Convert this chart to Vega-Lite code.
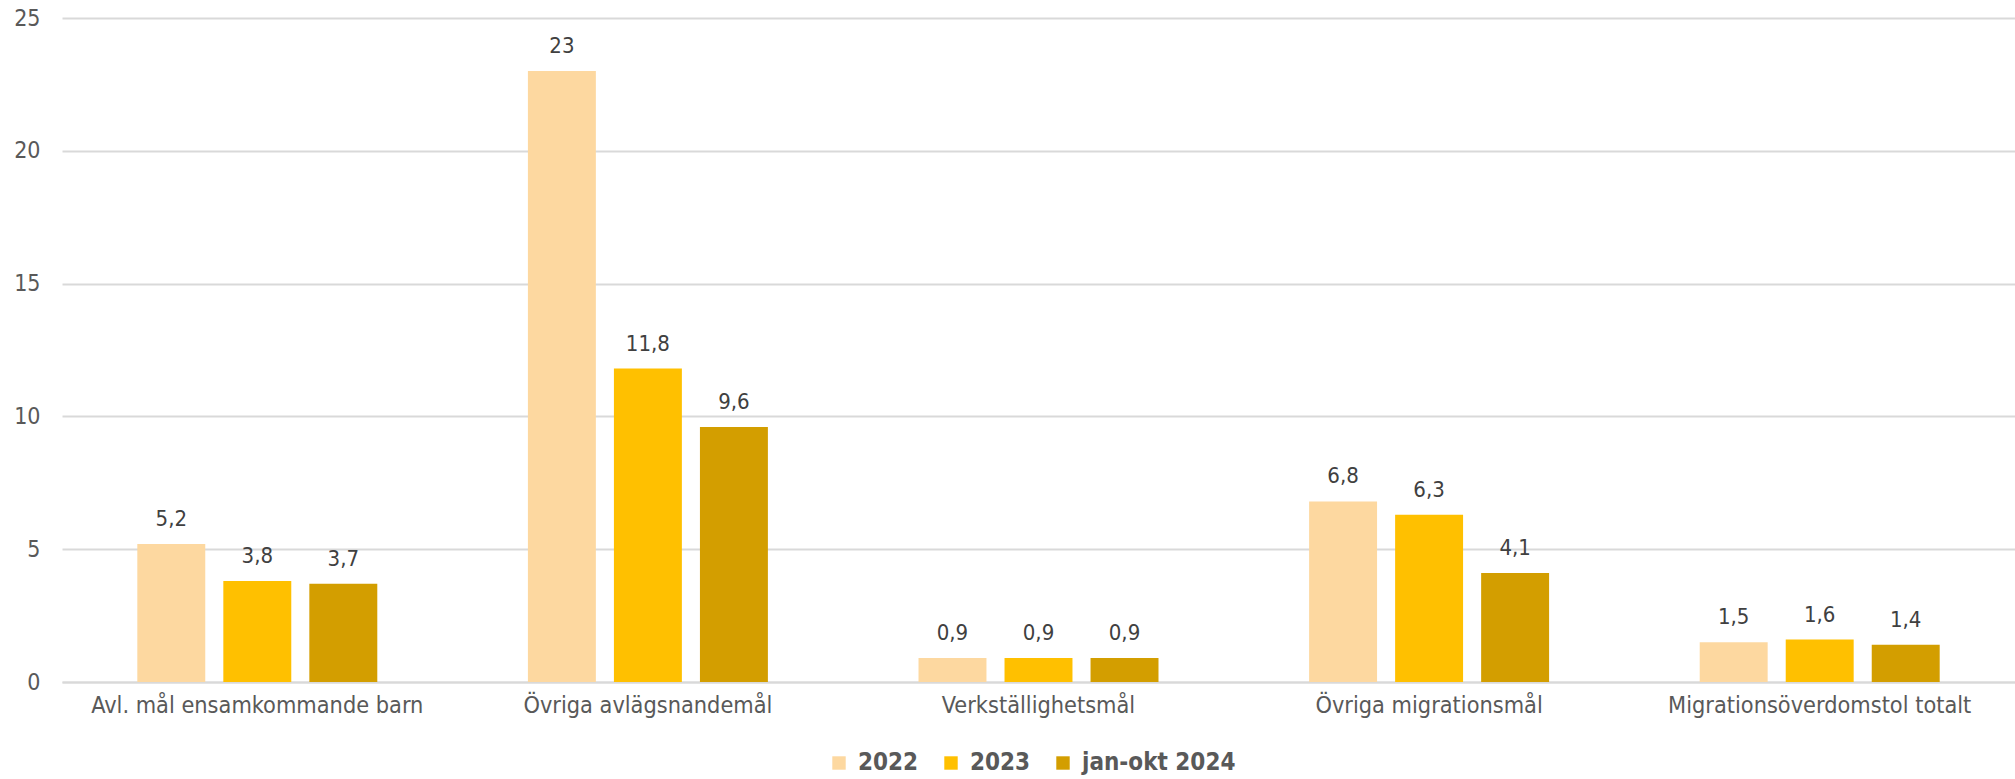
{
  "$schema": "https://vega.github.io/schema/vega-lite/v6.json",
  "width": 1953,
  "height": 664,
  "autosize": {"type": "none"},
  "padding": {"left": 62, "top": 18, "right": 0, "bottom": 97},
  "background": "white",
  "config": {
    "view": {"stroke": null},
    "font": "DejaVu Sans Condensed",
    "locale": {"number": {"decimal": ",", "thousands": " ", "grouping": [3], "currency": ["", " kr"]}}
  },
  "data": {
    "values": [
      {"kategori": "Avl. mål ensamkommande barn", "period": "2022", "varde": 5.2},
      {"kategori": "Avl. mål ensamkommande barn", "period": "2023", "varde": 3.8},
      {"kategori": "Avl. mål ensamkommande barn", "period": "jan-okt 2024", "varde": 3.7},
      {"kategori": "Övriga avlägsnandemål", "period": "2022", "varde": 23},
      {"kategori": "Övriga avlägsnandemål", "period": "2023", "varde": 11.8},
      {"kategori": "Övriga avlägsnandemål", "period": "jan-okt 2024", "varde": 9.6},
      {"kategori": "Verkställighetsmål", "period": "2022", "varde": 0.9},
      {"kategori": "Verkställighetsmål", "period": "2023", "varde": 0.9},
      {"kategori": "Verkställighetsmål", "period": "jan-okt 2024", "varde": 0.9},
      {"kategori": "Övriga migrationsmål", "period": "2022", "varde": 6.8},
      {"kategori": "Övriga migrationsmål", "period": "2023", "varde": 6.3},
      {"kategori": "Övriga migrationsmål", "period": "jan-okt 2024", "varde": 4.1},
      {"kategori": "Migrationsöverdomstol totalt", "period": "2022", "varde": 1.5},
      {"kategori": "Migrationsöverdomstol totalt", "period": "2023", "varde": 1.6},
      {"kategori": "Migrationsöverdomstol totalt", "period": "jan-okt 2024", "varde": 1.4}
    ]
  },
  "encoding": {
    "x": {
      "field": "kategori", "type": "nominal", "sort": null,
      "scale": {"paddingInner": 0.3856, "paddingOuter": 0.1928},
      "axis": {"title": null, "labelAngle": 0, "labelFontSize": 23.3, "labelColor": "#595959", "labelPadding": 12, "labelLimit": 0, "ticks": false, "domainColor": "#D9D9D9", "domainWidth": 2}
    },
    "xOffset": {"field": "period", "type": "nominal", "scale": {"paddingInner": 0.21, "paddingOuter": 0}},
    "y": {
      "field": "varde", "type": "quantitative",
      "scale": {"domain": [0, 25], "nice": false},
      "axis": {"title": null, "values": [0, 5, 10, 15, 20, 25], "labelOverlap": false, "grid": true, "gridColor": "#D9D9D9", "gridWidth": 2, "domain": false, "ticks": false, "labelFontSize": 23, "labelColor": "#595959", "labelPadding": 22}
    }
  },
  "layer": [
    {
      "mark": {"type": "bar"},
      "encoding": {
        "color": {
          "field": "period", "type": "nominal",
          "scale": {"domain": ["2022", "2023", "jan-okt 2024"], "range": ["#FDD8A0", "#FFC000", "#D39E00"]},
          "legend": {"title": null, "orient": "none", "legendX": 765, "legendY": 733, "direction": "horizontal", "symbolType": "square", "symbolSize": 180, "symbolStrokeWidth": 0, "labelFontSize": 24, "labelFontWeight": "bold", "labelColor": "#595959", "columnPadding": 20, "labelOffset": 7}
        }
      }
    },
    {
      "mark": {"type": "text", "baseline": "bottom", "dy": -13, "fontSize": 22, "color": "#404040"},
      "encoding": {
        "text": {"field": "varde", "type": "quantitative", "format": ".1~f"}
      }
    }
  ]
}
